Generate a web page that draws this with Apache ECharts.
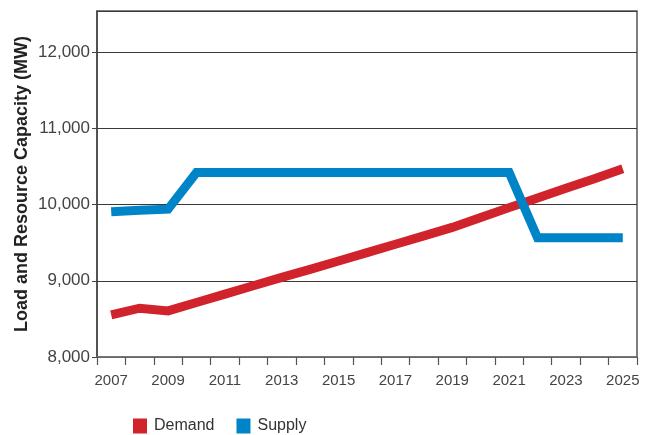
<!DOCTYPE html>
<html>
<head>
<meta charset="utf-8">
<script src="https://cdn.jsdelivr.net/npm/echarts@6/dist/echarts.min.js"></script>
<style>html,body{margin:0;padding:0;background:#fff}#c{width:659px;height:435px}</style>
</head>
<body>
<div id="c"></div>
<script>
const years = ['2007','2008','2009','2010','2011','2012','2013','2014','2015','2016','2017','2018','2019','2020','2021','2022','2023','2024','2025'];
const demand = [8553, 8640, 8605, 8715, 8825, 8935, 9045, 9150, 9260, 9370, 9480, 9590, 9700, 9830, 9960, 10085, 10215, 10340, 10470];
const supply = [9905, 9925, 9940, 10420, 10420, 10420, 10420, 10420, 10420, 10420, 10420, 10420, 10420, 10420, 10420, 9565, 9565, 9565, 9565];
const yTicks = [8000, 9000, 10000, 11000, 12000];
const yTitle = 'Load and Resource Capacity (MW)';
const FONT = '"Liberation Sans", Arial, sans-serif';

const chart = echarts.init(document.getElementById('c'), null, {renderer: 'canvas'});
chart.setOption({
  animation: false,
  backgroundColor: '#fff',
  grid: {left: 97, right: 22, top: 11, bottom: 78, show: true, borderColor: '#555', borderWidth: 1.5},
  graphic: [{
    type: 'text', x: 22.5, y: 184, rotation: Math.PI / 2,
    style: {text: yTitle, fontFamily: FONT, fontSize: 18, fontWeight: 'bold', fill: '#222',
            align: 'center', verticalAlign: 'middle'}
  }],
  legend: {
    left: 128, top: 413,
    icon: 'rect', itemWidth: 14, itemHeight: 15, itemGap: 22,
    textStyle: {fontFamily: FONT, fontSize: 16, color: '#333', padding: [0, 0, 0, 2]},
    data: ['Demand', 'Supply']
  },
  xAxis: {
    type: 'category', data: years, boundaryGap: true,
    axisLine: {lineStyle: {color: '#777', width: 1.5}},
    axisTick: {show: true, interval: 0, length: 8, lineStyle: {color: '#555', width: 1.2}},
    axisLabel: {interval: 1, margin: 16, fontFamily: FONT, fontSize: 15, color: '#444'},
    splitLine: {show: false}
  },
  yAxis: {
    type: 'value', min: yTicks[0], max: 12540, interval: yTicks[1] - yTicks[0],
    axisLine: {show: true, lineStyle: {color: '#444', width: 1.5}},
    axisTick: {show: true, length: 5, lineStyle: {color: '#444'}},
    axisLabel: {showMaxLabel: false, margin: 7, fontFamily: FONT, fontSize: 17, color: '#444',
      formatter: v => yTicks.includes(v) ? v.toLocaleString('en-US') : ''},
    splitLine: {show: true, lineStyle: {color: '#3a3a3a', width: 1.2}}
  },
  series: [
    {name: 'Demand', type: 'line', data: demand, symbol: 'none', color: '#D0232B',
     lineStyle: {width: 9, color: '#D0232B', join: 'miter', cap: 'butt'}},
    {name: 'Supply', type: 'line', data: supply, symbol: 'none', color: '#0084C8',
     lineStyle: {width: 9, color: '#0084C8', join: 'miter', cap: 'butt'}}
  ]
});
</script>
</body>
</html>
